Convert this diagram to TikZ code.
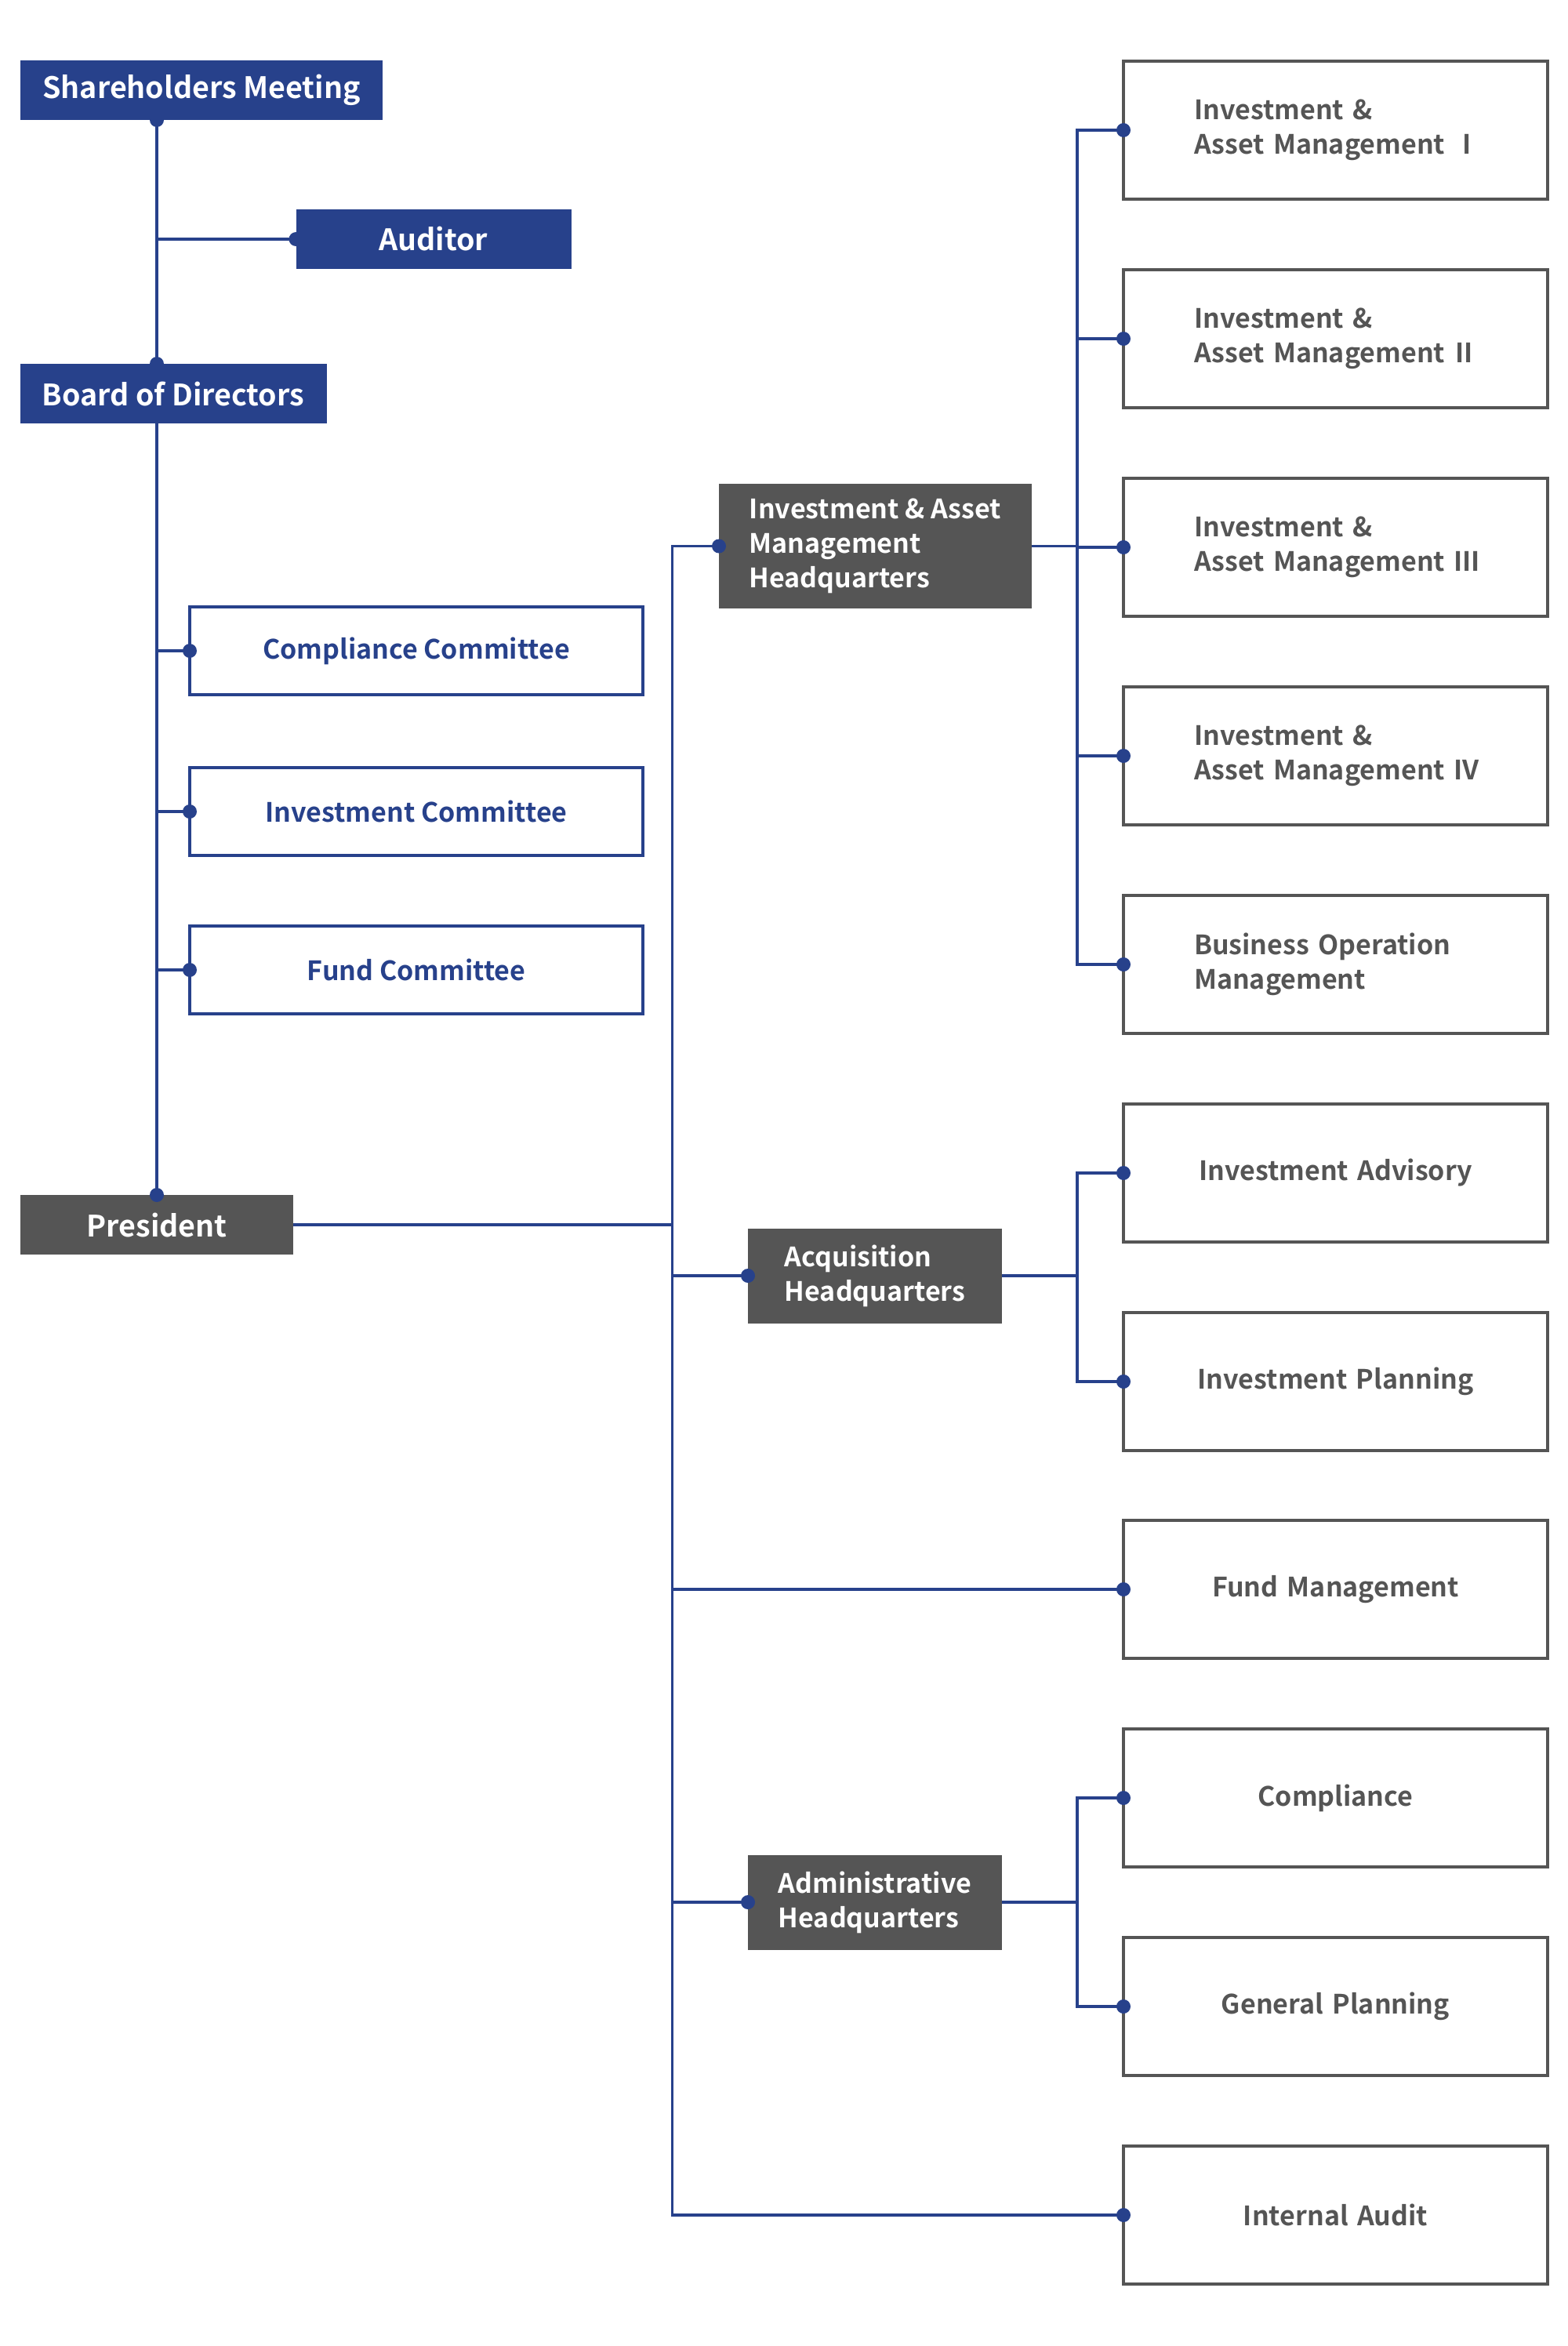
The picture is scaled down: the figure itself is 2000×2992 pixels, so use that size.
\documentclass[tikz,border=0pt]{standalone}
\usepackage{fontspec}
\setmainfont{Noto Sans CJK KR}[BoldFont={Noto Sans CJK KR Bold}]
\definecolor{cblue}{HTML}{27418B}
\definecolor{cgray}{HTML}{555555}
\begin{document}
\begin{tikzpicture}[x=0.5pt,y=-0.5pt,
  every node/.style={outer sep=0pt},
  topfont/.style={font=\bfseries\fontsize{18.8}{23}\selectfont},
  subfont/.style={font=\bfseries\fontsize{17}{22}\selectfont},
  bluebox/.style={rectangle, fill=cblue, text=white, topfont, minimum height=38pt, inner sep=0pt},
  graybox/.style={rectangle, fill=cgray, text=white, topfont, minimum height=38pt, inner sep=0pt},
  hqbox/.style={rectangle, fill=cgray, text=white, subfont, align=left, inner sep=0pt},
  combox/.style={rectangle, draw=cblue, line width=1.75pt, text=cblue, subfont, minimum width=289pt, minimum height=56pt, inner sep=0pt},
  unitbox/.style={rectangle, draw=cgray, line width=1.75pt, text=cgray, subfont, text width=180.5pt, inner xsep=45pt, inner ysep=0pt, minimum height=88pt},
  conn/.style={draw=cblue, line width=1.8pt, line join=miter},
  dot/.style={fill=cblue}
]
\useasboundingbox (0,0) rectangle (2000,2992);
\fill[white] (0,0) rectangle (2000,2992);

% left column
\node[bluebox, minimum width=231pt] (sh) at (257,115) {Shareholders Meeting};
\node[bluebox, minimum width=175.5pt] (aud) at (553,305) {Auditor};
\node[bluebox, minimum width=195.5pt] (bod) at (221,502) {Board of Directors};
\node[combox] (cc) at (531,830) {Compliance Committee};
\node[combox] (ic) at (531,1035) {Investment Committee};
\node[combox] (fc) at (531,1237) {Fund Committee};
\node[graybox, minimum width=174pt] (pres) at (200,1562) {President};

% headquarters
\node[hqbox, minimum width=199.5pt, minimum height=79.5pt] (iam) at (1116.5,696.5) {Investment \& Asset\\Management\\Headquarters};
\node[hqbox, minimum width=162pt, minimum height=60.5pt] (acq) at (1116,1627) {Acquisition\\Headquarters};
\node[hqbox, minimum width=162pt, minimum height=60.5pt] (adm) at (1116,2426) {Administrative\\Headquarters};

% units
\node[unitbox, align=left] (r1) at (1703.5,166) {Investment \&\\\mbox{Asset Management\hspace{0.65em}I}};
\node[unitbox, align=left] (r2) at (1703.5,432) {Investment \&\\\mbox{Asset Management\hspace{0.4em}II}};
\node[unitbox, align=left] (r3) at (1703.5,698) {Investment \&\\\mbox{Asset Management III}};
\node[unitbox, align=left] (r4) at (1703.5,964) {Investment \&\\\mbox{Asset Management IV}};
\node[unitbox, align=left] (r5) at (1703.5,1230) {Business Operation\\Management};
\node[unitbox, align=center] (r6) at (1703.5,1496) {Investment Advisory};
\node[unitbox, align=center] (r7) at (1703.5,1762) {Investment Planning};
\node[unitbox, align=center] (r8) at (1703.5,2027) {Fund Management};
\node[unitbox, align=center] (r9) at (1703.5,2293) {Compliance};
\node[unitbox, align=center] (r10) at (1703.5,2559) {General Planning};
\node[unitbox, align=center] (r11) at (1703.5,2825) {Internal Audit};

\coordinate (trunk) at (857.5,0);
\coordinate (sub) at (1374,0);

% left spine
\draw[conn] (sh.south -| pres.north) -- (bod.north -| pres.north);
\draw[conn] (bod.south -| pres.north) -- (pres.north);
\draw[conn] (aud.west) -- (aud.west -| pres.north);
\foreach \c in {cc,ic,fc} \draw[conn] (\c.west) -- (\c.west -| pres.north);

% president to trunk
\draw[conn] (pres.east) -- (pres.east -| trunk);
\draw[conn] (iam.west) -- (iam.west -| trunk) -- (r11.west -| trunk) -- (r11.west);
\draw[conn] (acq.west) -- (acq.west -| trunk);
\draw[conn] (adm.west) -- (adm.west -| trunk);
\draw[conn] (r8.west) -- (r8.west -| trunk);

% investment & asset management HQ
\draw[conn] (iam.east) -- (iam.east -| sub);
\draw[conn] (r1.west) -- (r1.west -| sub) -- (r5.west -| sub) -- (r5.west);
\foreach \r in {r2,r3,r4} \draw[conn] (\r.west) -- (\r.west -| sub);

% acquisition HQ
\draw[conn] (acq.east) -- (acq.east -| sub);
\draw[conn] (r6.west) -- (r6.west -| sub) -- (r7.west -| sub) -- (r7.west);

% administrative HQ
\draw[conn] (adm.east) -- (adm.east -| sub);
\draw[conn] (r9.west) -- (r9.west -| sub) -- (r10.west -| sub) -- (r10.west);

% dots
\foreach \p in {sh.south -| pres.north, bod.north -| pres.north, aud.west, cc.west, ic.west, fc.west, pres.north, iam.west, acq.west, adm.west}
  \fill[dot] (\p) circle (4.5pt);
\foreach \r in {r1,r2,r3,r4,r5,r6,r7,r8,r9,r10,r11}
  \fill[dot] (\r.west) circle (4.5pt);
\end{tikzpicture}
\end{document}
